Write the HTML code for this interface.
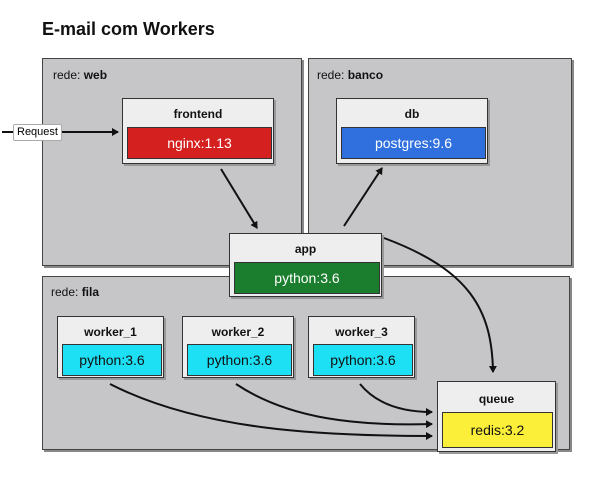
<!DOCTYPE html>
<html><head><style>
body{margin:0;width:595px;height:492px;background:#fff;font-family:"Liberation Sans",sans-serif;position:relative;overflow:hidden}
.a{position:absolute;box-sizing:border-box}
.panel{background:#c6c5c8;border:1.5px solid #444;box-shadow:2px 2px 0 #888}
.pl{font-size:12px;color:#111}
.box{background:#eeeeef;border:1.5px solid #333;box-shadow:2px 2px 0 #999;text-align:center}
.bt{font-size:12px;font-weight:bold;color:#111;margin-top:8px}
.in{position:absolute;border:1.5px solid #333;font-size:14px;display:flex;align-items:center;justify-content:center}
</style></head><body>
<div class="a" style="left:42px;top:19px;font-size:18px;font-weight:bold;color:#111">E-mail com Workers</div>
<div class="a panel" style="left:42px;top:58px;width:260px;height:208px"><div class="a pl" style="left:10px;top:9px">rede: <b>web</b></div></div>
<div class="a panel" style="left:308px;top:58px;width:264px;height:208px"><div class="a pl" style="left:8px;top:9px">rede: <b>banco</b></div></div>
<div class="a panel" style="left:42px;top:276px;width:528px;height:174px"><div class="a pl" style="left:8px;top:8px">rede: <b>fila</b></div></div>

<div class="a box" style="left:122px;top:98px;width:152px;height:66px"><div class="bt">frontend</div><div class="in" style="left:4px;top:28px;width:143px;height:30px;background:#d42120;color:#fff">nginx:1.13</div></div>
<div class="a box" style="left:336px;top:98px;width:152px;height:66px"><div class="bt">db</div><div class="in" style="left:4px;top:28px;width:143px;height:30px;background:#2f6fde;color:#fff">postgres:9.6</div></div>
<div class="a box" style="left:229px;top:233px;width:153px;height:64px"><div class="bt">app</div><div class="in" style="left:4px;top:28px;width:144px;height:30px;background:#1b7e2e;color:#fff">python:3.6</div></div>
<div class="a box" style="left:57px;top:316px;width:107px;height:62px"><div class="bt">worker_1</div><div class="in" style="left:4px;top:27px;width:98px;height:30px;background:#1de0f5;color:#111">python:3.6</div></div>
<div class="a box" style="left:182px;top:316px;width:112px;height:62px"><div class="bt">worker_2</div><div class="in" style="left:4px;top:27px;width:103px;height:30px;background:#1de0f5;color:#111">python:3.6</div></div>
<div class="a box" style="left:308px;top:316px;width:107px;height:62px"><div class="bt">worker_3</div><div class="in" style="left:4px;top:27px;width:98px;height:30px;background:#1de0f5;color:#111">python:3.6</div></div>
<div class="a box" style="left:437px;top:381px;width:119px;height:71px"><div class="bt" style="margin-top:10px">queue</div><div class="in" style="left:4px;top:30px;width:109px;height:34px;background:#fbef3a;color:#111">redis:3.2</div></div>

<svg class="a" style="left:0;top:0" width="595" height="492">
<defs><marker id="m" markerWidth="8" markerHeight="8" refX="6" refY="4" orient="auto" markerUnits="userSpaceOnUse"><path d="M0,0 L7,4 L0,8z" fill="#111"/></marker></defs>
<g stroke="#111" stroke-width="2" fill="none" marker-end="url(#m)">
<path d="M2,132 L118,132"/>
<path d="M221,169 L257,228"/>
<path d="M344,226 L382,168"/>
<path d="M384,238 C470,270 492,310 493,372"/>
<path d="M110,384 C200,430 320,436 432,436"/>
<path d="M236,384 C290,420 360,426 432,424"/>
<path d="M360,384 C378,406 405,412 432,412"/>
</g>
</svg>
<div class="a" style="left:13px;top:124px;background:#fff;border:1px solid #aaa;border-radius:2px;font-size:11px;padding:0 3px;line-height:15px">Request</div>
</body></html>
